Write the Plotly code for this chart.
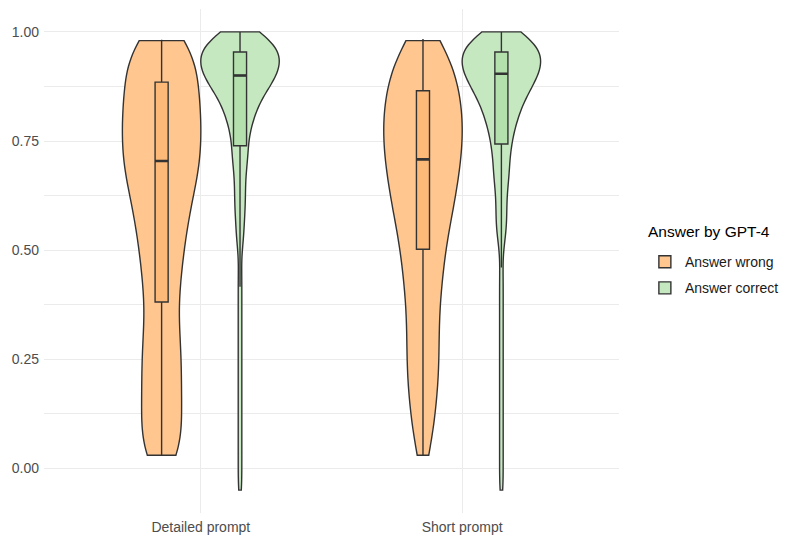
import numpy as np
import plotly.graph_objects as go

# ---------------- data ----------------
prompts = ["Detailed prompt", "Short prompt"]
groups = ["Answer wrong", "Answer correct"]
legend_title = "Answer by GPT-4"

# Violin samples, given as values with their multiplicities (read from the density shapes)
wrong_vals = [0.03, 0.06, 0.09, 0.12, 0.15, 0.18, 0.21, 0.24, 0.27, 0.30, 0.33,
              0.36, 0.39, 0.42, 0.45, 0.48, 0.51, 0.54, 0.57, 0.60, 0.63, 0.66,
              0.69, 0.72, 0.75, 0.78, 0.81, 0.84, 0.87, 0.90, 0.93, 0.96, 0.98]
wrong_detailed_counts = [8, 5, 5, 5, 5, 5, 5, 5, 5, 5, 4,
                         4, 4, 5, 5, 5, 6, 6, 7, 7, 8, 9,
                         10, 10, 10, 10, 10, 10, 9, 9, 9, 8, 8]
wrong_short_counts = [2, 2, 3, 3, 3, 4, 4, 4, 4, 4, 4,
                      4, 4, 5, 5, 5, 6, 6, 7, 8, 8, 9,
                      9, 10, 10, 10, 10, 10, 9, 8, 8, 6, 4]

correct_vals = [-0.05, -0.02, 0.01, 0.04, 0.07, 0.10, 0.13, 0.16, 0.19, 0.22, 0.25,
                0.28, 0.31, 0.34, 0.37, 0.40, 0.43, 0.46,
                0.50, 0.52, 0.54, 0.56, 0.58, 0.60, 0.62, 0.64, 0.66, 0.68, 0.70,
                0.72, 0.74, 0.76, 0.78, 0.80, 0.82, 0.84, 0.86, 0.88, 0.90, 0.92,
                0.94, 0.96, 0.98, 1.00]
correct_detailed_counts = [1] * 18 + [1, 1, 2, 1, 2, 2, 2, 2, 2, 2, 3,
                                      3, 3, 3, 4, 5, 6, 7, 9, 12, 14, 15,
                                      16, 15, 13, 8]
correct_short_counts = [1] * 18 + [1, 1, 2, 2, 2, 2, 2, 2, 3, 3, 3,
                                   3, 4, 4, 5, 6, 7, 8, 10, 12, 14, 15,
                                   16, 15, 13, 8]

bandwidths = {"Answer wrong": 0.06, "Answer correct": 0.03}

# Box statistics (per prompt: Detailed, Short)
box_lowerfence = {"Answer wrong": [0.030, 0.030], "Answer correct": [0.416, 0.460]}
box_q1 = {"Answer wrong": [0.381, 0.502], "Answer correct": [0.739, 0.743]}
box_median = {"Answer wrong": [0.704, 0.708], "Answer correct": [0.900, 0.904]}
box_q3 = {"Answer wrong": [0.885, 0.865], "Answer correct": [0.954, 0.954]}
box_upperfence = {"Answer wrong": [0.982, 0.984], "Answer correct": [1.000, 1.000]}

y_tickvals = [0.0, 0.25, 0.5, 0.75, 1.0]
y_ticktext = ["0.00", "0.25", "0.50", "0.75", "1.00"]

# ---------------- styles ----------------
violin_fill = {"Answer wrong": "#FFC68F", "Answer correct": "#C5E8C0"}
box_fill = {"Answer wrong": "#FDB978", "Answer correct": "#B3E0AD"}
outline = "#333333"
font_family = "Liberation Sans, Arial, sans-serif"

samples = {
    ("Answer wrong", "Detailed prompt"): np.repeat(wrong_vals, wrong_detailed_counts),
    ("Answer wrong", "Short prompt"): np.repeat(wrong_vals, wrong_short_counts),
    ("Answer correct", "Detailed prompt"): np.repeat(correct_vals, correct_detailed_counts),
    ("Answer correct", "Short prompt"): np.repeat(correct_vals, correct_short_counts),
}

fig = go.Figure()

for g in groups:
    for j, p in enumerate(prompts):
        ys = samples[(g, p)]
        fig.add_trace(go.Violin(
            x=[p] * len(ys), y=ys, orientation="v",
            name=g, legendgroup=g, showlegend=(j == 0),
            offsetgroup=g, alignmentgroup="v",
            scalegroup=f"{g}|{p}", scalemode="width",
            spanmode="hard", bandwidth=bandwidths[g],
            points=False, box_visible=False, meanline_visible=False,
            fillcolor=violin_fill[g], opacity=1,
            line=dict(color=outline, width=1.4),
            hoverinfo="skip",
        ))

for g in groups:
    fig.add_trace(go.Box(
        x=prompts,
        lowerfence=box_lowerfence[g], q1=box_q1[g], median=box_median[g],
        q3=box_q3[g], upperfence=box_upperfence[g],
        name=g, legendgroup=g, showlegend=False,
        offsetgroup=g, alignmentgroup="b",
        boxpoints=False, whiskerwidth=0,
        fillcolor=box_fill[g],
        line=dict(color=outline, width=1.4),
        hoverinfo="skip",
    ))

# thicker median bar (ggplot draws the median line fattened)
for g in groups:
    fig.add_trace(go.Box(
        x=prompts,
        lowerfence=box_median[g], q1=box_median[g], median=box_median[g],
        q3=box_median[g], upperfence=box_median[g],
        name=g, legendgroup=g, showlegend=False,
        offsetgroup=g, alignmentgroup="b",
        boxpoints=False, whiskerwidth=0,
        fillcolor="rgba(0,0,0,0)",
        line=dict(color=outline, width=2.6),
        hoverinfo="skip",
    ))

fig.update_layout(
    width=800, height=539,
    margin=dict(l=44, r=181, t=9, b=26),
    paper_bgcolor="white", plot_bgcolor="white",
    violinmode="group", violingap=0.4, violingroupgap=0.0,
    boxmode="group", boxgap=0.4, boxgroupgap=0.8333,
    font=dict(family=font_family, color="#1A1A1A"),
    legend=dict(
        font=dict(size=14, color="#1A1A1A"),
        x=1.045, xanchor="left", y=0.472, yanchor="middle",
        tracegroupgap=5, bgcolor="rgba(0,0,0,0)",
    ),
    showlegend=True,
    annotations=[dict(
        text=legend_title, xref="paper", yref="paper",
        x=1.047, y=0.5595, xanchor="left", yanchor="middle",
        showarrow=False, font=dict(size=15.5, color="#000000"),
    )],
)

fig.update_xaxes(
    type="category", categoryorder="array", categoryarray=prompts,
    range=[-0.6, 1.6], automargin=False,
    showgrid=True, gridcolor="#EBEBEB", gridwidth=1.1,
    showline=False, zeroline=False, ticks="", ticklabelstandoff=4,
    tickfont=dict(size=14, color="#4D4D4D"),
)
fig.update_yaxes(
    range=[-0.1025, 1.0525], automargin=False,
    tickvals=y_tickvals, ticktext=y_ticktext,
    showgrid=True, gridcolor="#EBEBEB", gridwidth=1.1,
    minor=dict(dtick=0.125, tick0=0, showgrid=True, gridcolor="#EBEBEB", gridwidth=0.55),
    showline=False, zeroline=False, ticks="", ticklabelstandoff=4,
    tickfont=dict(size=14, color="#4D4D4D"),
)

fig.write_html("out.html", config={"displayModeBar": False},
               post_script="document.body.style.margin='0px';")
